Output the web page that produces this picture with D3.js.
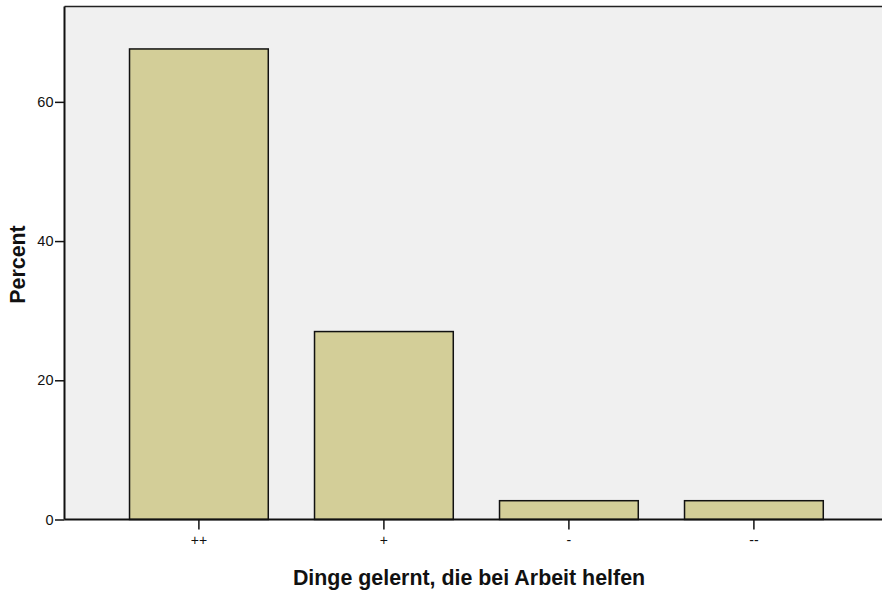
<!DOCTYPE html>
<html><head><meta charset="utf-8">
<script src="https://cdn.jsdelivr.net/npm/d3@7"></script>
<style>body{margin:0;background:#fff;} svg{display:block;font-family:"Liberation Sans",Arial,sans-serif;}</style>
</head><body>
<script>
const categories = ["++", "+", "-", "--"];
const percents = [67.6, 27.0, 2.7, 2.7];
const yTicks = [0, 20, 40, 60];
const xTitle = "Dinge gelernt, die bei Arbeit helfen";
const yTitle = "Percent";

const W = 882, H = 596;
const svg = d3.select("body").append("svg").attr("width", W).attr("height", H);
const plot = {left: 64.5, right: 882, top: 6.5, bottom: 519.5};

const y = d3.scaleLinear().domain([0, 73.7]).range([plot.bottom, plot.top]);
const x = d3.scaleBand().domain(categories).range([106.4, 846.4]).paddingInner(0.25).paddingOuter(0.125);

svg.append("rect").attr("x", plot.left).attr("y", plot.top)
  .attr("width", plot.right - plot.left).attr("height", plot.bottom - plot.top)
  .attr("fill", "#f0f0f0");
svg.append("line").attr("x1", plot.left).attr("x2", plot.right).attr("y1", plot.top).attr("y2", plot.top)
  .attr("stroke", "#222").attr("stroke-width", 1.5);

svg.selectAll("rect.bar").data(categories).enter().append("rect").attr("class", "bar")
  .attr("x", d => x(d)).attr("width", x.bandwidth())
  .attr("y", (d, i) => y(percents[i])).attr("height", (d, i) => y(0) - y(percents[i]))
  .attr("fill", "#d3ce98").attr("stroke", "#111").attr("stroke-width", 1.5);

const yAxis = svg.append("g").attr("transform", `translate(${plot.left},0)`)
  .call(d3.axisLeft(y).tickValues(yTicks).tickSize(9.5).tickPadding(1.5).tickFormat(d3.format("d")));
yAxis.select(".domain").attr("d", `M0,${plot.top}V${plot.bottom}`).attr("stroke", "#111").attr("stroke-width", 2);
yAxis.selectAll(".tick line").attr("stroke", "#111").attr("stroke-width", 1.5);
yAxis.selectAll(".tick text").style("font-size", "14.5px").attr("fill", "#111")
  .style("font-family", "'Liberation Sans', Arial, sans-serif");

const xAxis = svg.append("g").attr("transform", `translate(0,${plot.bottom})`)
  .call(d3.axisBottom(x).tickSize(10).tickPadding(6));
xAxis.select(".domain").attr("d", `M${plot.left},0H${plot.right}`).attr("stroke", "#111").attr("stroke-width", 2);
xAxis.selectAll(".tick line").attr("stroke", "#111").attr("stroke-width", 1.5);
xAxis.selectAll(".tick text").style("font-size", "14px").attr("fill", "#111")
  .style("font-family", "'Liberation Sans', Arial, sans-serif");

svg.append("text").attr("x", 469).attr("y", 585).attr("text-anchor", "middle")
  .style("font-size", "21.4px").attr("font-weight", "bold").attr("fill", "#111").text(xTitle);
svg.append("text").attr("transform", "translate(25,264.5) rotate(-90)").attr("text-anchor", "middle")
  .style("font-size", "21.4px").attr("font-weight", "bold").attr("fill", "#111").text(yTitle);
</script>
</body></html>
